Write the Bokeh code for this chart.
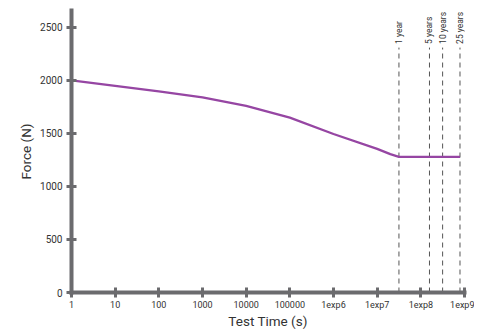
import math
from bokeh.plotting import figure
from bokeh.models import FixedTicker, Range1d
from bokeh.core.properties import value
from bokeh.embed import file_html
from bokeh.resources import INLINE

# Data
time_s = [1, 10, 100, 1000, 1e4, 1e5, 1e6, 1e7, 2e7, 3.1536e7, 7.884e8]
force_n = [2000, 1950, 1897, 1840, 1760, 1650, 1495, 1355, 1305, 1280, 1280]

x_ticks = [1, 10, 100, 1000, 1e4, 1e5, 1e6, 1e7, 1e8, 1e9]
x_tick_labels = ["1", "10", "100", "1000", "10000", "100000", "1exp6", "1exp7", "1exp8", "1exp9"]
y_ticks = [0, 500, 1000, 1500, 2000, 2500]

marker_times = [3.1536e7, 1.5768e8, 3.1536e8, 7.884e8]
marker_labels = ["1 year", "5 years", "10 years", "25 years"]

AXIS = "#6b6b6e"
TEXT = "#333333"
FONT = "Roboto"

p = figure(width=474, height=331, x_axis_type="log",
           x_range=Range1d(1, 1e9), y_range=Range1d(0, 2660),
           output_backend="svg", toolbar_location=None,
           min_border_left=71, min_border_right=10, min_border_top=10, min_border_bottom=39)
p.outline_line_color = None
p.xgrid.visible = False
p.ygrid.visible = False

# dashed markers
for t in marker_times:
    p.line([t, t], [0, 2310], line_color="#555555", line_width=1, line_dash="5 4")
p.text(x=marker_times, y=[2345] * len(marker_times), text=marker_labels,
       angle=math.pi / 2, text_align="left", text_baseline="middle",
       text_font=value(FONT), text_font_size="8.5px", text_color=TEXT)

p.line(time_s, force_n, line_color="#9646a3", line_width=2.3)

for ax in (p.xaxis[0], p.yaxis[0]):
    ax.axis_line_color = AXIS
    ax.axis_line_width = 4
    ax.axis_line_cap = "square"
    ax.major_tick_line_color = AXIS
    ax.major_tick_line_width = 3
    ax.major_tick_in = 5
    ax.major_tick_out = 5
    ax.minor_tick_line_color = None
    ax.major_label_text_font = FONT
    ax.major_label_text_color = TEXT
    ax.axis_label_text_font = FONT
    ax.axis_label_text_font_style = "normal"
    ax.axis_label_text_color = TEXT
    ax.axis_label_text_font_size = "13.5px"

p.xaxis.ticker = FixedTicker(ticks=x_ticks)
p.xaxis.major_label_overrides = {t: l for t, l in zip(x_ticks, x_tick_labels)}
p.xaxis.major_label_text_font_size = "9px"
p.xaxis.major_label_standoff = 2
p.xaxis.axis_label = "Test Time (s)"
p.xaxis.axis_label_standoff = 0

p.yaxis.ticker = FixedTicker(ticks=y_ticks)
p.yaxis.major_label_text_font_size = "10px"
p.yaxis.major_label_standoff = 4
p.yaxis.axis_label = "Force (N)"
p.yaxis.axis_label_standoff = 3

open("out.html", "w").write(file_html(p, INLINE))
